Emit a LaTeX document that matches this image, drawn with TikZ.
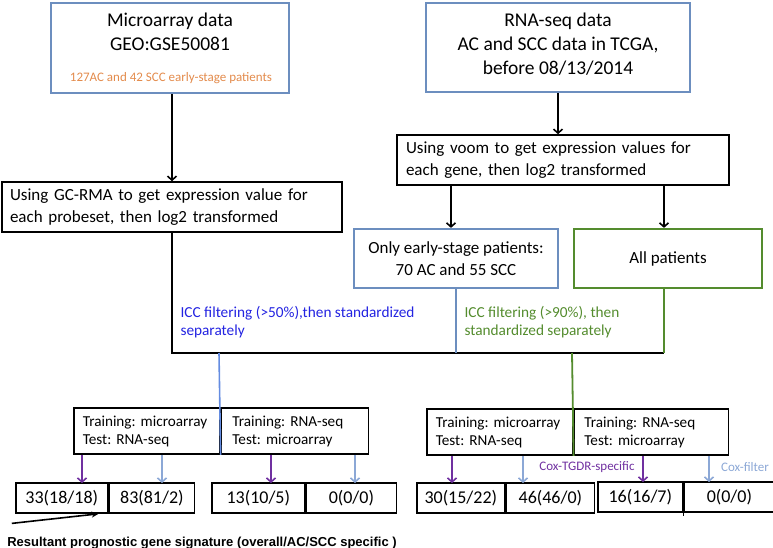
\documentclass[tikz,border=0pt]{standalone}
\usepackage{fontspec}
\setmainfont{Carlito}
\newfontfamily\notefont{Liberation Sans}
\usetikzlibrary{arrows.meta}
\frenchspacing

\definecolor{boxblue}{RGB}{108,142,191}
\definecolor{subor}{RGB}{227,139,76}
\definecolor{iccblue}{RGB}{35,35,225}
\definecolor{iccgreen}{RGB}{84,140,46}
\definecolor{lineblue}{RGB}{100,140,225}
\definecolor{coxpurple}{RGB}{112,48,160}
\definecolor{coxblue}{RGB}{140,168,214}

\begin{document}
\begin{tikzpicture}[x=1pt,y=-1pt,
    bluebox/.style={draw=boxblue, line width=2.2pt, inner sep=0pt},
    blackbox/.style={draw=black, line width=1.6pt, inner sep=0pt},
    titletxt/.style={align=center, font=\fontsize{19.5}{24}\selectfont},
    bodytxt/.style={align=left, font=\fontsize{17}{22}\selectfont},
    traincell/.style={blackbox, minimum height=46, align=left, anchor=west,
        font=\fontsize{15.2}{18}\selectfont, inner xsep=10pt},
    rescell/.style={blackbox, minimum height=30, anchor=west,
        font=\fontsize{18}{20}\selectfont},
    arr/.style={line width=1.6pt, -{Straight Barb[length=4pt,width=9pt,line width=1.6pt]}},
    coxarr/.style={arr, line width=1.8pt}
]
\useasboundingbox (0,0) rectangle (773,548);

% data sources
\node[bluebox, minimum width=238, minimum height=90] (micro) at (170,48) {};
\node[titletxt] (microtxt) at (170,32) {Microarray data\\GEO:GSE50081};
\node[text=subor, font=\fontsize{13}{14}\selectfont] (microsub) at (171,78)
    {127AC and 42 SCC early-stage patients};

\node[bluebox, minimum width=264, minimum height=89] (rnaseq) at (558,47.5) {};
\node[titletxt] (rnatxt) at (558,44)
    {RNA-seq data\\AC and SCC data in TCGA,\\before 08/13/2014};

% preprocessing
\node[blackbox, minimum width=340, minimum height=50, bodytxt, text width=324,
    inner xsep=8pt] (gcrma) at (172,207)
    {Using GC-RMA to get expression value for\\each probeset, then log2 transformed};
\node[blackbox, minimum width=332, minimum height=50, bodytxt, text width=314,
    inner xsep=9pt] (voom) at (563,160)
    {Using voom to get expression values for\\each gene, then log2 transformed};

\node[bluebox, minimum width=204, minimum height=59, bodytxt, align=center] (early)
    at (456,258.5) {Only early-stage patients:\\70 AC and 55 SCC};
\node[draw=iccgreen, line width=2.2pt, minimum width=188, minimum height=59,
    bodytxt] (allp) at (668,258.5) {All patients};

% ICC filtering
\coordinate (iccR) at (664,353);
\coordinate (iccB) at (219,353);
\coordinate (iccG) at (572,353);
\node[text=iccblue, align=left, anchor=west, font=\fontsize{15.3}{18}\selectfont]
    (icc50) at (177,322) {ICC filtering (>50\%),then standardized\\separately};
\node[text=iccgreen, align=left, anchor=west, font=\fontsize{15.3}{18}\selectfont]
    (icc90) at (461,322) {ICC filtering (>90\%), then\\standardized separately};

% training/test
\node[traincell, minimum width=146, text width=128, inner xsep=9pt] (trainL1)
    at (73,431) {Training: microarray\\Test: RNA-seq};
\node[traincell, minimum width=147, text width=125, inner xsep=11pt] (trainL2)
    at (trainL1.east) {Training: RNA-seq\\Test: microarray};
\node[traincell, minimum width=146, text width=128, inner xsep=9pt] (trainR1)
    at (426,432) {Training: microarray\\Test: RNA-seq};
\node[traincell, minimum width=154, text width=134, inner xsep=10pt] (trainR2)
    at (trainR1.east) {Training: RNA-seq\\Test: microarray};

% results
\node[rescell, minimum width=92] (resA1) at (15,498) {33(18/18)};
\node[rescell, minimum width=85] (resA2) at (resA1.east) {83(81/2)};
\node[rescell, minimum width=93] (resB1) at (211,498) {13(10/5)};
\node[rescell, minimum width=90] (resB2) at (resB1.east) {0(0/0)};
\node[rescell, minimum width=88] (resC1) at (416,498) {30(15/22)};
\node[rescell, minimum width=88] (resC2) at (resC1.east) {46(46/0)};
\node[rescell, minimum width=85] (resD1) at (597,497) {16(16/7)};
\node[rescell, minimum width=90] (resD2) at (resD1.east) {0(0/0)};

\node[text=coxpurple, font=\fontsize{13}{14}\selectfont] (coxtgdr) at (587,467)
    {Cox-TGDR-specific};
\node[text=coxblue, font=\fontsize{13}{14}\selectfont] (coxfilt) at (745,467)
    {Cox-filter};

\node[font=\notefont\bfseries\fontsize{13}{14}\selectfont] (note) at (202,543)
    {Resultant prognostic gene signature (overall/AC/SCC specific )};

% arrows
\draw[arr] (gcrma.north |- micro.south) -- (gcrma.north);
\draw[arr] (rnaseq.south) -- (rnaseq.south |- voom.north);
\draw[arr] ([xshift=-5pt]early.north |- voom.south) -- ([xshift=-5pt]early.north);
\draw[arr] (iccR |- voom.south) -- (iccR |- allp.north);

\draw[line width=1.6pt] (gcrma.south) -- (gcrma.south |- iccR) -- (iccR);
\draw[boxblue, line width=1.6pt] (early.south) -- (early.south |- iccR);
\draw[iccgreen, line width=1.8pt] (iccR |- allp.south) -- (iccR);
\draw[lineblue, line width=1.6pt] (iccB) -- (trainL1.south east);
\draw[iccgreen, line width=1.8pt] (iccG) -- (trainR1.south east);

\coordinate (pa) at (82,483);
\coordinate (pb) at (162,483);
\coordinate (pc) at (271,483);
\coordinate (pd) at (355,483);
\coordinate (pe) at (452,483);
\coordinate (pf) at (523,483);
\coordinate (pg) at (643,482);
\coordinate (ph) at (709,482);
\draw[coxarr, coxpurple] (trainL1.south -| pa) -- (pa);
\draw[coxarr, coxblue] (trainL1.south -| pb) -- (pb);
\draw[coxarr, coxpurple] (trainL2.south -| pc) -- (pc);
\draw[coxarr, coxblue] (trainL2.south -| pd) -- (pd);
\draw[coxarr, coxpurple] (trainR1.south -| pe) -- (pe);
\draw[coxarr, coxblue] (trainR1.south -| pf) -- (pf);
\draw[coxarr, coxpurple] (trainR2.south -| pg) -- (pg);
\draw[coxarr, coxblue] (trainR2.south -| ph) -- (ph);

\draw[line width=1.6pt] (resD1.north east) -- ([yshift=-3pt]resD1.south east);
\draw[line width=1.6pt, -{Stealth[length=7pt,width=6pt]}]
    ([shift={(8,-10)}]note.north west) -- ([xshift=-10pt]resA1.south east);
\end{tikzpicture}
\end{document}
